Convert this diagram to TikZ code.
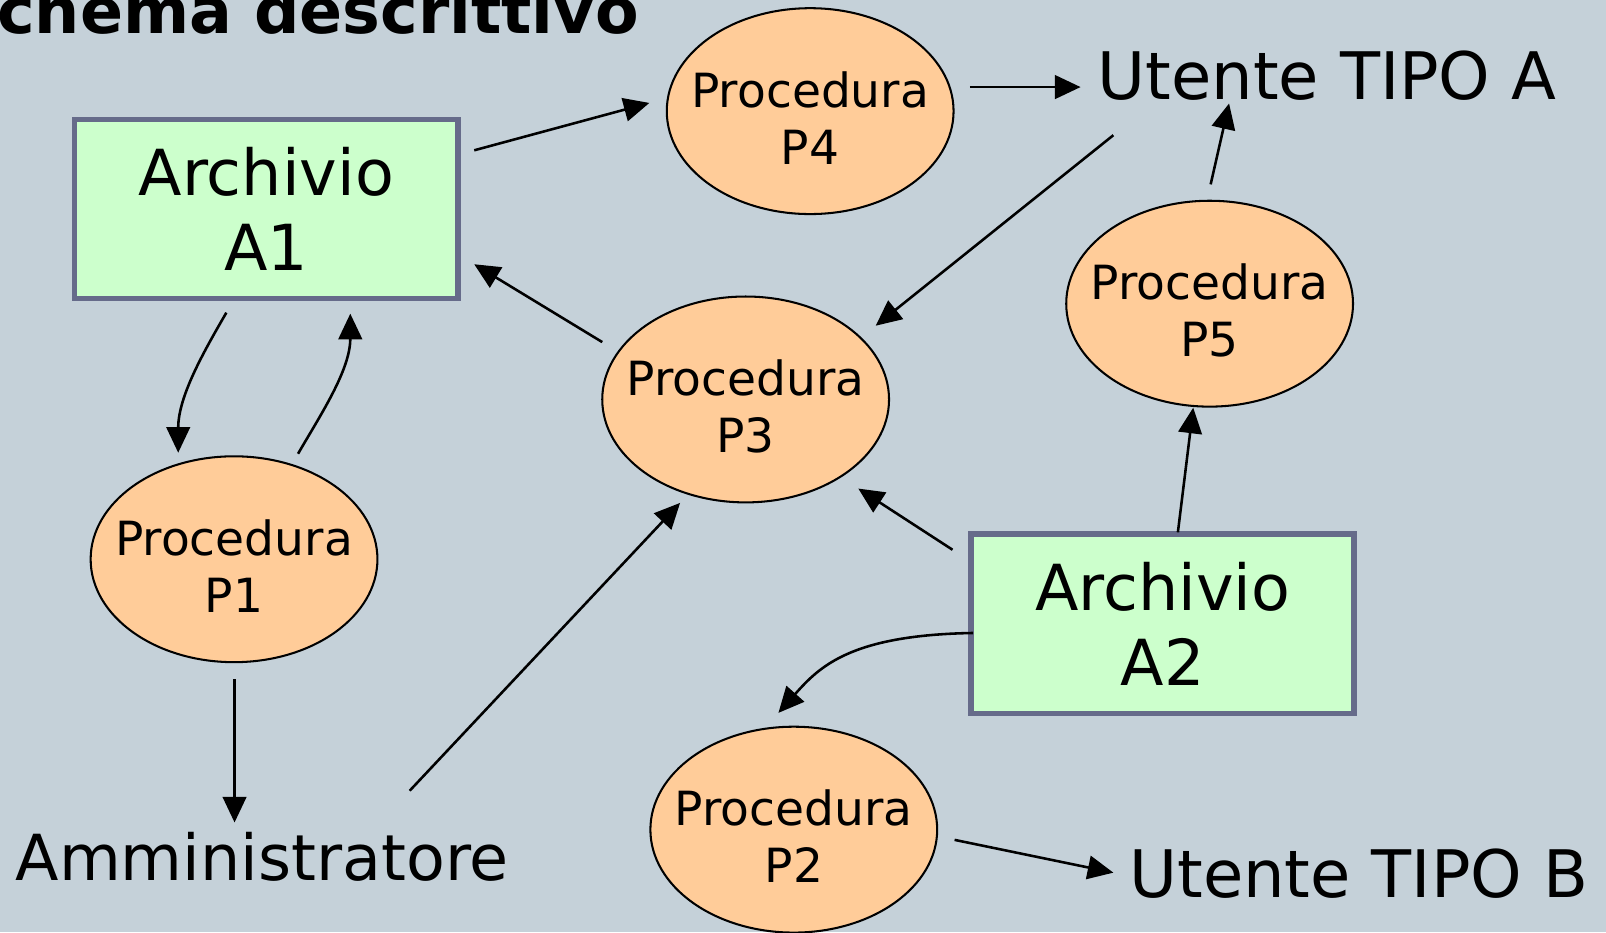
\documentclass[tikz,border=0pt]{standalone}
\usepackage{fontspec}
\setmainfont{DejaVu Sans}
\usetikzlibrary{arrows.meta,shapes.geometric}
\definecolor{sfondo}{RGB}{197,209,217}
\definecolor{verdearch}{RGB}{204,255,204}
\definecolor{bordoarch}{RGB}{102,107,138}
\definecolor{arancioproc}{RGB}{255,204,153}
\newcommand\procnome[1]{\makebox[0pt]{\rule{0pt}{48pt}Procedura}\\#1}
\tikzset{
	archivio/.style={draw=bordoarch, line width=5.5pt, fill=verdearch, minimum width=374.5pt, minimum height=175pt, inner sep=0pt, align=center, font=\fontsize{62}{73}\selectfont},
	procedura/.style={ellipse, draw=black, line width=2pt, fill=arancioproc, minimum width=280pt, minimum height=201pt, inner sep=0pt, align=center, font=\fontsize{46}{55.6}\selectfont},
	utente/.style={anchor=base west, inner sep=0pt, font=\fontsize{64}{75}\selectfont},
	freccia/.style={line width=2.5pt, -{Triangle[length=25pt,width=23pt]}}
}

\begin{document}
\begin{tikzpicture}[x=1pt, y=-1pt]
			%%%%% START %%%%%
			
			\useasboundingbox (0, 0) rectangle (1568, 910);
			\clip (0, 0) rectangle (1568, 910);
			\fill[sfondo] (0, 0) rectangle (1568, 910);
			
			\node[anchor=base west, inner sep=0pt, font=\fontsize{62}{70}\selectfont\bfseries] (titolo) at (-3, 33) {chema descrittivo};
			
			\node[archivio] (A1) at (260, 204) {Archivio\\A1};
			\node[archivio] (A2) at (1135, 609) {Archivio\\A2};
			
			\node[procedura] (P1) at (228.5, 546) {\procnome{P1}};
			\node[procedura] (P2) at (775, 810) {\procnome{P2}};
			\node[procedura] (P3) at (728, 390) {\procnome{P3}};
			\node[procedura] (P4) at (791, 108.5) {\procnome{P4}};
			\node[procedura] (P5) at (1181, 296.5) {\procnome{P5}};
			
			\node[utente] (UA) at (1071.5, 97) {Utente TIPO A};
			\node[utente] (UB) at (1102.5, 876) {Utente TIPO B};
			\node[utente, font=\fontsize{62}{73}\selectfont] (AM) at (15, 860) {Amministratore};
			
			\draw[freccia] ([shift={(13,33)}]A1.north east) -- ([shift={(-16,-8)}]P4.west);
			\draw[freccia] ([shift={(15,-23.5)}]P4.east) -- ([shift={(-16.5,-12)}]UA.base west);
			\draw[freccia] ([shift={(15.5,35)}]UA.base west) -- ([shift={(-14,-72)}]P3.east);
			\draw[freccia] ([shift={(1,-15)}]P5.north) -- ([shift={(128.5,4)}]UA.base west);
			\draw[freccia] ([shift={(15,1)}]A2.north) -- ([shift={(-16,0)}]P5.south);
			
			\draw[freccia] ([shift={(1,-56)}]P3.west) -- ([shift={(13,54)}]A1.east);
			\draw[freccia] ([shift={(-15,18)}]A2.north west) -- ([shift={(-31,87)}]P3.east);
			
			\draw[freccia] ([shift={(-39,11)}]A1.south) .. controls +(-22,38) and +(0,-55) .. ([shift={(-54.5,-2.5)}]P1.north);
			\draw[freccia] ([shift={(62.5,-1.5)}]P1.north) .. controls +(22,-38) and +(0,55) .. ([shift={(82,12)}]A1.south);
			
			\draw[freccia] ([shift={(0.5,15.5)}]P1.south) -- ([shift={(214,-57)}]AM.base west);
			\draw[freccia] ([shift={(385,-88)}]AM.base west) -- ([shift={(-64,-0.5)}]P3.south);
			
			\draw[freccia] ([shift={(5,9)}]A2.west) .. controls +(-120,2) and +(40,-45) .. ([shift={(-15,-12.5)}]P2.north);
			\draw[freccia] ([shift={(16,10)}]P2.east) -- ([shift={(-15.5,-24)}]UB.base west);
			
			%%%%% END %%%%%
\end{tikzpicture}
\end{document}
